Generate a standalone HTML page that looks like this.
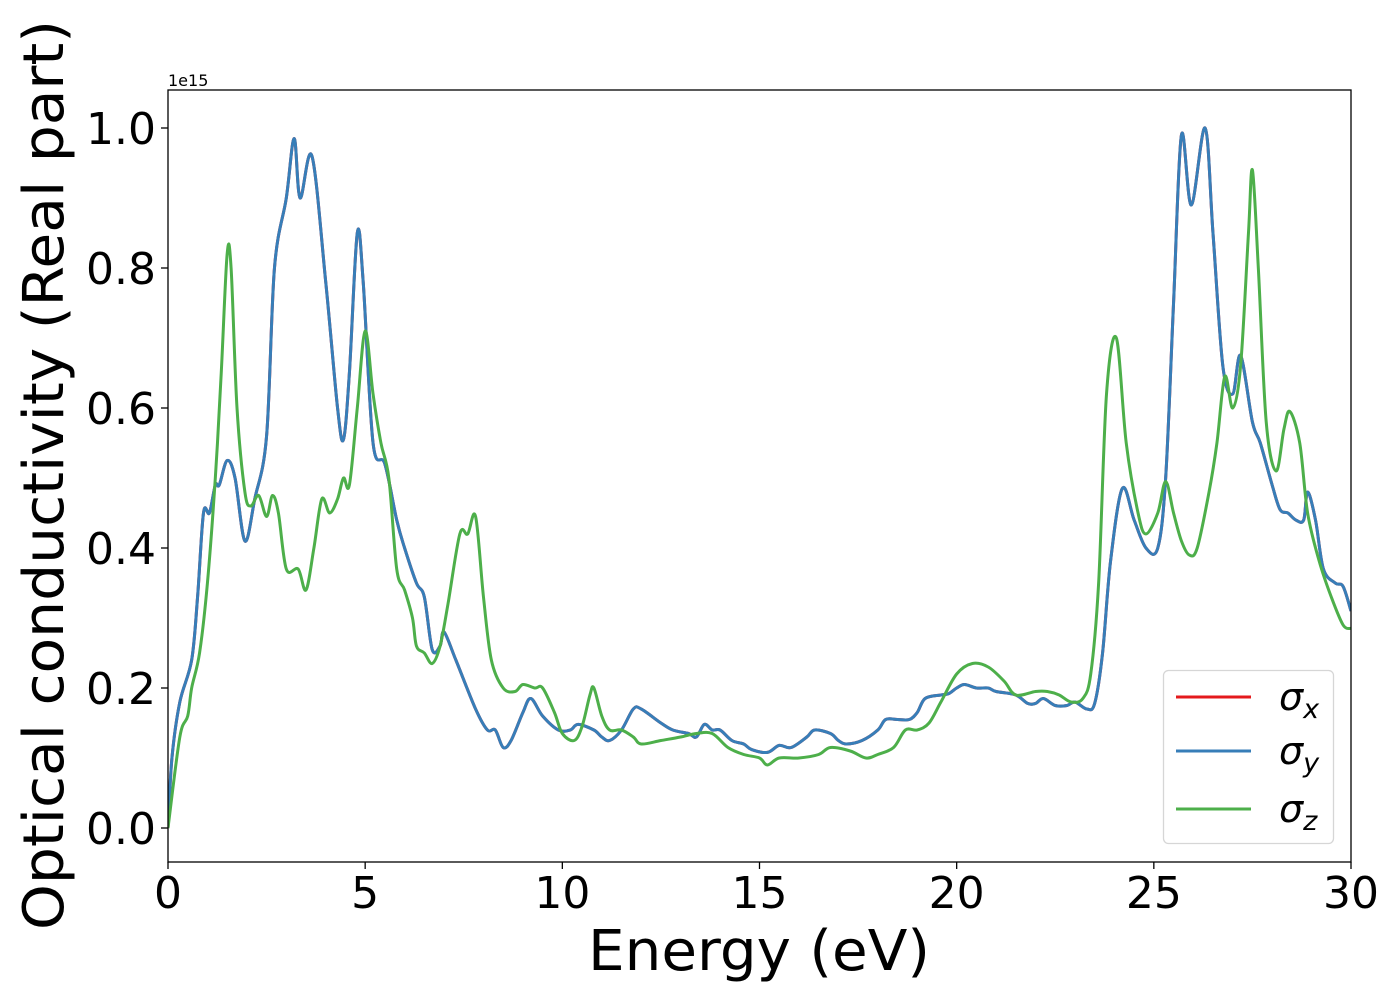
<!DOCTYPE html>
<html><head><meta charset="utf-8">
<style>
html,body{margin:0;padding:0;background:#fff;}
svg{display:block;font-family:"DejaVu Sans","Liberation Sans",sans-serif;}
</style></head>
<body>
<svg id="chart" width="1400" height="1000" viewBox="0 0 1400 1000" xmlns="http://www.w3.org/2000/svg">
<rect width="1400" height="1000" fill="#fff"/>
<g id="ticks"></g>
<g id="series" clip-path="url(#clip)"></g>
<defs><clipPath id="clip"><rect x="168" y="90" width="1183" height="772"/></clipPath></defs>
<rect x="168" y="90" width="1183" height="772" fill="none" stroke="#000" stroke-width="1.3"/>
<text x="168" y="86" font-size="16">1e15</text>
<text x="759" y="970" font-size="56" text-anchor="middle" textLength="342" lengthAdjust="spacingAndGlyphs">Energy (eV)</text>
<text transform="translate(63,475) rotate(-90)" font-size="56" text-anchor="middle" textLength="910" lengthAdjust="spacingAndGlyphs">Optical conductivity (Real part)</text>
<g>
<rect x="1163.5" y="670.5" width="170" height="173" rx="5" fill="#fff" fill-opacity="0.8" stroke="#d6d6d6" stroke-width="1.3"/>
<line x1="1176" y1="697" x2="1251" y2="697" stroke="#e41a1c" stroke-width="3"/>
<text x="1279" y="710" font-size="38" font-style="italic">σ<tspan font-size="27" dy="8">x</tspan></text>
<line x1="1176" y1="751" x2="1251" y2="751" stroke="#377eb8" stroke-width="3"/>
<text x="1279" y="764" font-size="38" font-style="italic">σ<tspan font-size="27" dy="8">y</tspan></text>
<line x1="1176" y1="809" x2="1251" y2="809" stroke="#4daf4a" stroke-width="3"/>
<text x="1279" y="822" font-size="38" font-style="italic">σ<tspan font-size="27" dy="8">z</tspan></text>
</g>
</svg>
<script>
const xTicks = [0, 5, 10, 15, 20, 25, 30];
const yTicks = [0.0, 0.2, 0.4, 0.6, 0.8, 1.0];
const yTickLabels = ["0.0", "0.2", "0.4", "0.6", "0.8", "1.0"];
const energyXY = [0,0.1,0.3,0.6,0.75,0.9,1.05,1.2,1.3,1.5,1.7,1.95,2.2,2.5,2.7,3.0,3.2,3.35,3.65,4.0,4.3,4.45,4.6,4.8,4.95,5.2,5.5,5.8,6.0,6.3,6.5,6.7,6.9,7.0,7.3,7.8,8.1,8.3,8.5,8.7,9.0,9.2,9.5,9.9,10.2,10.4,10.8,11.0,11.2,11.5,11.8,12.0,12.5,12.8,13.2,13.4,13.6,13.8,14.0,14.3,14.6,14.8,15.2,15.5,15.8,16.2,16.4,16.8,17.0,17.2,17.6,18.0,18.2,18.5,18.8,19.0,19.2,19.6,19.8,20.0,20.2,20.5,20.8,21.0,21.5,21.8,22.0,22.2,22.5,22.8,23.0,23.3,23.5,23.7,23.9,24.2,24.5,24.8,25.1,25.3,25.5,25.7,25.95,26.3,26.5,26.75,27.0,27.2,27.5,27.7,28.0,28.2,28.4,28.6,28.8,28.9,29.1,29.3,29.6,29.8,30];
const sigmaY = [0,0.1,0.18,0.24,0.33,0.45,0.45,0.49,0.49,0.525,0.5,0.41,0.47,0.56,0.8,0.9,0.985,0.9,0.96,0.78,0.6,0.555,0.65,0.85,0.78,0.55,0.52,0.44,0.4,0.35,0.33,0.255,0.26,0.28,0.24,0.17,0.14,0.14,0.115,0.125,0.165,0.185,0.16,0.14,0.14,0.148,0.14,0.13,0.125,0.14,0.17,0.17,0.15,0.14,0.135,0.13,0.148,0.14,0.14,0.125,0.12,0.112,0.108,0.118,0.115,0.13,0.14,0.135,0.125,0.12,0.125,0.14,0.155,0.155,0.155,0.165,0.185,0.19,0.192,0.2,0.205,0.2,0.2,0.195,0.19,0.178,0.178,0.185,0.175,0.175,0.18,0.17,0.178,0.25,0.38,0.485,0.44,0.4,0.4,0.5,0.75,0.99,0.89,1.0,0.85,0.66,0.62,0.675,0.58,0.55,0.49,0.455,0.45,0.44,0.44,0.48,0.44,0.37,0.35,0.345,0.31];
const sigmaX = sigmaY.slice();
const energyZ = [0,0.3,0.5,0.6,0.8,1.0,1.2,1.35,1.5,1.6,1.75,1.95,2.1,2.3,2.5,2.65,2.8,3.0,3.3,3.5,3.7,3.9,4.1,4.3,4.45,4.6,4.8,5.0,5.2,5.4,5.6,5.8,6.0,6.2,6.3,6.5,6.7,6.9,7.1,7.4,7.6,7.8,8.0,8.2,8.5,8.8,9.0,9.3,9.5,9.8,10.0,10.3,10.5,10.7,10.8,11.0,11.2,11.5,11.8,12.0,12.5,13.0,13.4,13.8,14.2,14.6,15.0,15.2,15.5,16.0,16.5,16.8,17.3,17.7,18.0,18.4,18.7,19.0,19.3,19.6,20.0,20.4,20.8,21.2,21.5,22.0,22.3,22.6,22.9,23.2,23.4,23.6,23.8,24.05,24.3,24.6,24.8,25.1,25.3,25.5,25.7,25.9,26.1,26.4,26.6,26.8,27.0,27.2,27.4,27.5,27.65,27.85,28.1,28.3,28.45,28.7,28.9,29.2,29.5,29.8,30];
const sigmaZ = [0,0.13,0.16,0.2,0.25,0.35,0.5,0.65,0.82,0.8,0.6,0.48,0.46,0.475,0.445,0.475,0.45,0.37,0.37,0.34,0.4,0.47,0.45,0.47,0.5,0.49,0.6,0.71,0.62,0.55,0.5,0.37,0.34,0.3,0.26,0.25,0.235,0.26,0.32,0.42,0.42,0.445,0.33,0.24,0.2,0.195,0.205,0.2,0.2,0.165,0.135,0.125,0.145,0.19,0.2,0.16,0.14,0.14,0.13,0.12,0.125,0.13,0.135,0.135,0.115,0.105,0.1,0.09,0.1,0.1,0.105,0.115,0.11,0.1,0.105,0.115,0.14,0.14,0.15,0.18,0.22,0.235,0.23,0.21,0.19,0.195,0.195,0.19,0.18,0.185,0.22,0.35,0.62,0.7,0.55,0.45,0.42,0.45,0.495,0.45,0.41,0.39,0.4,0.48,0.55,0.645,0.6,0.66,0.85,0.94,0.8,0.58,0.51,0.57,0.595,0.55,0.45,0.38,0.33,0.29,0.285];

const NS = "http://www.w3.org/2000/svg";
const X0 = 168, X1 = 1351, Y0 = 828, Y1 = 128;
function xScale(v){ return X0 + (v - 0) / 30 * (X1 - X0); }
function yScale(v){ return Y0 + (v - 0) / 1.0 * (Y1 - Y0); }

const ticksG = document.getElementById('ticks');
xTicks.forEach(function(t){
  const l = document.createElementNS(NS, 'line');
  
  
  l.setAttribute('x1', xScale(t)); l.setAttribute('x2', xScale(t));
  l.setAttribute('y1', 862); l.setAttribute('y2', 869);
  l.setAttribute('stroke', '#000'); l.setAttribute('stroke-width', '1.3');
  ticksG.appendChild(l);
  const tx = document.createElementNS(NS, 'text');
  
  
  tx.setAttribute('x', xScale(t)); tx.setAttribute('y', 908);
  tx.setAttribute('font-size', '44'); tx.setAttribute('text-anchor', 'middle');
  tx.textContent = String(t);
  ticksG.appendChild(tx);
});
yTicks.forEach(function(t, i){
  const l = document.createElementNS(NS, 'line');
  
  
  l.setAttribute('x1', 161); l.setAttribute('x2', 168);
  l.setAttribute('y1', yScale(t)); l.setAttribute('y2', yScale(t));
  l.setAttribute('stroke', '#000'); l.setAttribute('stroke-width', '1.3');
  ticksG.appendChild(l);
  const tx = document.createElementNS(NS, 'text');
  
  
  tx.setAttribute('x', 156); tx.setAttribute('y', yScale(t) + 16);
  tx.setAttribute('font-size', '44'); tx.setAttribute('text-anchor', 'end');
  tx.textContent = yTickLabels[i];
  ticksG.appendChild(tx);
});

function smoothPath(xs, ys){
  const p = xs.map(function(x, i){ return [xScale(x), yScale(ys[i])]; });
  let d = 'M' + p[0][0].toFixed(2) + ',' + p[0][1].toFixed(2);
  for (let i = 0; i < p.length - 1; i++){
    const a = p[Math.max(0, i - 1)], b = p[i], c = p[i + 1], e = p[Math.min(p.length - 1, i + 2)];
    const c1x = b[0] + (c[0] - a[0]) / 6, c1y = b[1] + (c[1] - a[1]) / 6;
    const c2x = c[0] - (e[0] - b[0]) / 6, c2y = c[1] - (e[1] - b[1]) / 6;
    d += 'C' + c1x.toFixed(2) + ',' + c1y.toFixed(2) + ' ' + c2x.toFixed(2) + ',' + c2y.toFixed(2) + ' ' + c[0].toFixed(2) + ',' + c[1].toFixed(2);
  }
  return d;
}
const seriesG = document.getElementById('series');
function addSeries(name, xs, ys, color){
  const path = document.createElementNS(NS, 'path');
  
  
  path.setAttribute('d', smoothPath(xs, ys));
  path.setAttribute('fill', 'none');
  path.setAttribute('stroke', color);
  path.setAttribute('stroke-width', '3');
  path.setAttribute('stroke-linejoin', 'round');
  seriesG.appendChild(path);
}
addSeries('sigma-x-line', energyXY, sigmaX, '#e41a1c');
addSeries('sigma-y-line', energyXY, sigmaY, '#377eb8');
addSeries('sigma-z-line', energyZ, sigmaZ, '#4daf4a');
</script>
</body></html>
